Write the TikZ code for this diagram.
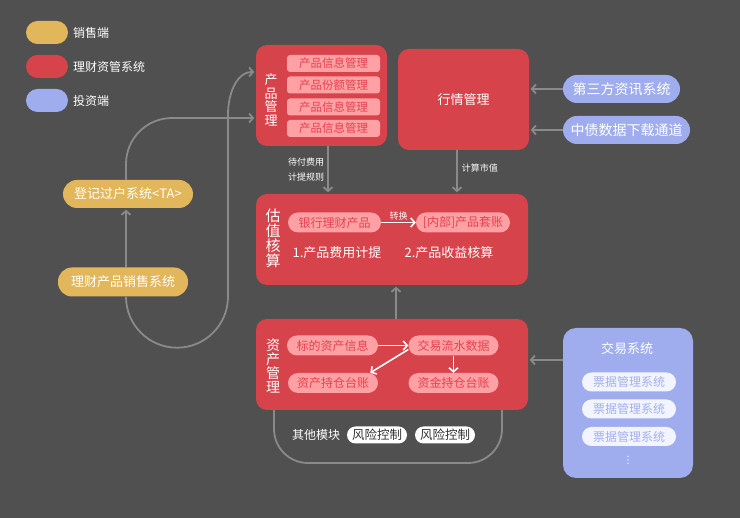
\documentclass[tikz,border=0pt]{standalone}
\usepackage{fontspec}
\setmainfont{Noto Sans CJK SC}
\newfontfamily\dejavu{DejaVu Sans}
\usepackage{tikz}
\usetikzlibrary{arrows.meta}

\definecolor{bg}{HTML}{505050}
\definecolor{hong}{HTML}{D6434B}
\definecolor{fen}{HTML}{FFA0A5}
\definecolor{fenzi}{HTML}{E2444E}
\definecolor{huang}{HTML}{E2B65A}
\definecolor{lan}{HTML}{9FADEE}
\definecolor{lanbai}{HTML}{F2F4FF}
\definecolor{lanzi}{HTML}{A3B0EE}
\definecolor{hui}{HTML}{8A8A8A}

\tikzset{
  >={Straight Barb[length=4pt,width=9pt]},
  box/.style={fill=hong, rounded corners=11pt, inner sep=0pt, text=white},
  vtext/.style={text=white, align=center, inner sep=0pt},
  legpill/.style={minimum width=42, minimum height=23, rounded corners=11.5pt, inner sep=0pt},
  legtext/.style={anchor=west, text=white, inner sep=0pt, font=\fontsize{12}{12}\selectfont},
  bar/.style={fill=fen, text=fenzi, rounded corners=3pt, minimum width=93, minimum height=17, inner sep=0pt, font=\fontsize{11.5}{12}\selectfont},
  pill/.style={fill=fen, text=fenzi, rounded corners=10pt, minimum height=20, inner sep=0pt, font=\fontsize{12}{12}\selectfont},
  yellowpill/.style={fill=huang, text=white, rounded corners=14pt, minimum height=28, inner sep=0pt, font=\fontsize{13}{13}\selectfont},
  bluepill/.style={fill=lan, text=white, rounded corners=14pt, minimum height=28, inner sep=0pt, font=\fontsize{14}{14}\selectfont},
  whitepill/.style={fill=white, text=black!80, rounded corners=8.5pt, minimum width=60, minimum height=17, inner sep=0pt, font=\fontsize{12.5}{12.5}\selectfont},
  sysbar/.style={fill=lanbai, text=lanzi, rounded corners=9.5pt, minimum width=94, minimum height=19, inner sep=0pt, font=\fontsize{12}{12}\selectfont},
  plain/.style={text=white, inner sep=0pt, font=\fontsize{13}{13}\selectfont},
  conn/.style={draw=hui, line width=1.8pt, ->, shorten >=1.5pt},
  inarrow/.style={draw=white, line width=1.6pt, ->},
  ringline/.style={draw=hui, line width=1.8pt, rounded corners=34pt},
  small/.style={text=white, font=\fontsize{9}{15}\selectfont}
}

\begin{document}
\begin{tikzpicture}[x=1pt, y=1pt]
        \fill[bg] (0,0) rectangle (740,-518);
        \useasboundingbox (0,0) rectangle (740,-518);

        % legend
        \node[legpill, fill=huang] (l1) at (47,-32.5) {};
        \node[legpill, fill=hong] (l2) at (47,-66.5) {};
        \node[legpill, fill=lan] (l3) at (47,-100.5) {};
        \node[legtext] (t1) at (73,-32.5) {销售端};
        \node[legtext] (t2) at (73,-66.5) {理财资管系统};
        \node[legtext] (t3) at (73,-100.5) {投资端};

        % sales side
        \node[yellowpill, minimum width=130] (ta) at (128,-194) {登记过户系统<TA>};
        \node[yellowpill, minimum width=130, minimum height=29] (xs) at (123,-282) {理财产品销售系统};

        % product management
        \node[box, minimum width=131, minimum height=101] (cp) at (321.5,-95.5) {};
        \node[vtext, font=\fontsize{13}{13.5}\selectfont] (cpt) at (271,-100) {产\\品\\管\\理};
        \node[bar] (cp1) at (333.5,-63.5) {产品信息管理};
        \node[bar] (cp2) at (333.5,-85) {产品份额管理};
        \node[bar] (cp3) at (333.5,-107) {产品信息管理};
        \node[bar] (cp4) at (333.5,-128.5) {产品信息管理};

        % market
        \node[box, minimum width=131, minimum height=101, font=\fontsize{13}{13}\selectfont] (hq) at (463.5,-99.5) {行情管理};
        \node[bluepill, minimum width=117] (sf) at (621.5,-89) {第三方资讯系统};
        \node[bluepill, minimum width=127] (zx) at (626.5,-130) {中债数据下载通道};

        % valuation
        \node[box, minimum width=272, minimum height=91] (gz) at (392,-239.5) {};
        \node[vtext, font=\fontsize{15}{15}\selectfont] (gzt) at (273,-238) {估\\值\\核\\算};
        \node[pill, minimum width=93] (yh) at (334.5,-222.5) {银行理财产品};
        \node[pill, minimum width=94] (nb) at (463,-222.5) {[内部]产品套账};
        \node[plain] (f1) at (337,-253) {1.产品费用计提};
        \node[plain] (f2) at (449,-253) {2.产品收益核算};

        % asset management
        \draw[ringline] (274,-400) -- (274,-463) -- (502,-463) -- (502,-400);
        \node[box, minimum width=272, minimum height=91] (zc) at (392,-364.5) {};
        \node[vtext, font=\fontsize{14}{14}\selectfont] (zct) at (273,-366) {资\\产\\管\\理};
        \node[pill, minimum width=91] (bd) at (332.5,-345.5) {标的资产信息};
        \node[pill, minimum width=90] (jl) at (453.5,-345.5) {交易流水数据};
        \node[pill, minimum width=90] (cc) at (333,-383) {资产持仓台账};
        \node[pill, minimum width=90] (zj) at (453.5,-383) {资金持仓台账};
        \node[plain, font=\fontsize{12}{12}\selectfont] (qt) at (316,-435) {其他模块};
        \node[whitepill] (fx1) at (377,-435) {风险控制};
        \node[whitepill] (fx2) at (445,-435) {风险控制};

        % trading
        \node[fill=lan, rounded corners=13pt, minimum width=130, minimum height=150, inner sep=0pt] (jy) at (628,-403) {};
        \node[plain] (jyt) at (627,-349) {交易系统};
        \node[sysbar] (pj1) at (629,-382) {票据管理系统};
        \node[sysbar] (pj2) at (629,-409) {票据管理系统};
        \node[sysbar] (pj3) at (629,-436.5) {票据管理系统};
        \node[text=white, inner sep=0pt, font=\dejavu\fontsize{10}{10}\selectfont] (dd) at (628,-460) {⋮};

        % connectors
        \draw[conn, rounded corners=46pt] ([xshift=-2]ta.north) |- ([yshift=-22.5]cp.west);
        \draw[conn] ([xshift=3]xs.south) arc[start angle=180, end angle=360, radius=51]
              -- ++(0,182) to[out=90, in=180] ([yshift=23.5]cp.west);
        \draw[conn] ([xshift=3]xs.north) -- ([xshift=3]xs.north |- ta.south);

        \draw[conn] ([xshift=6.5]cp.south) -- ([xshift=6.5]cp.south |- gz.north)
              node[midway, left, small, align=right, inner sep=3pt] (lb1) {待付费用\\计提规则};
        \draw[conn] ([xshift=-6.5]hq.south) -- ([xshift=-6.5]hq.south |- gz.north)
              node[pos=0.4, right, small, inner sep=4pt] (lb2) {计算市值};
        \draw[conn] ([xshift=4]zc.north) -- ([xshift=4]zc.north |- gz.south);

        \draw[conn] (sf.west) -- (sf.west -| hq.east);
        \draw[conn] (zx.west) -- (zx.west -| hq.east);
        \draw[conn] ([yshift=4.5]jy.west |- zc.east) -- ([yshift=4.5]zc.east);

        \draw[inarrow] (yh) -- (nb) node[midway, above, small, inner sep=1.5pt] (zh) {转换};
        \draw (bd) edge[inarrow] (jl)
              ([yshift=-4]jl.west) edge[inarrow] ([xshift=-8]cc.north east)
              (jl) edge[inarrow] (zj);
    \end{tikzpicture}
\end{document}
